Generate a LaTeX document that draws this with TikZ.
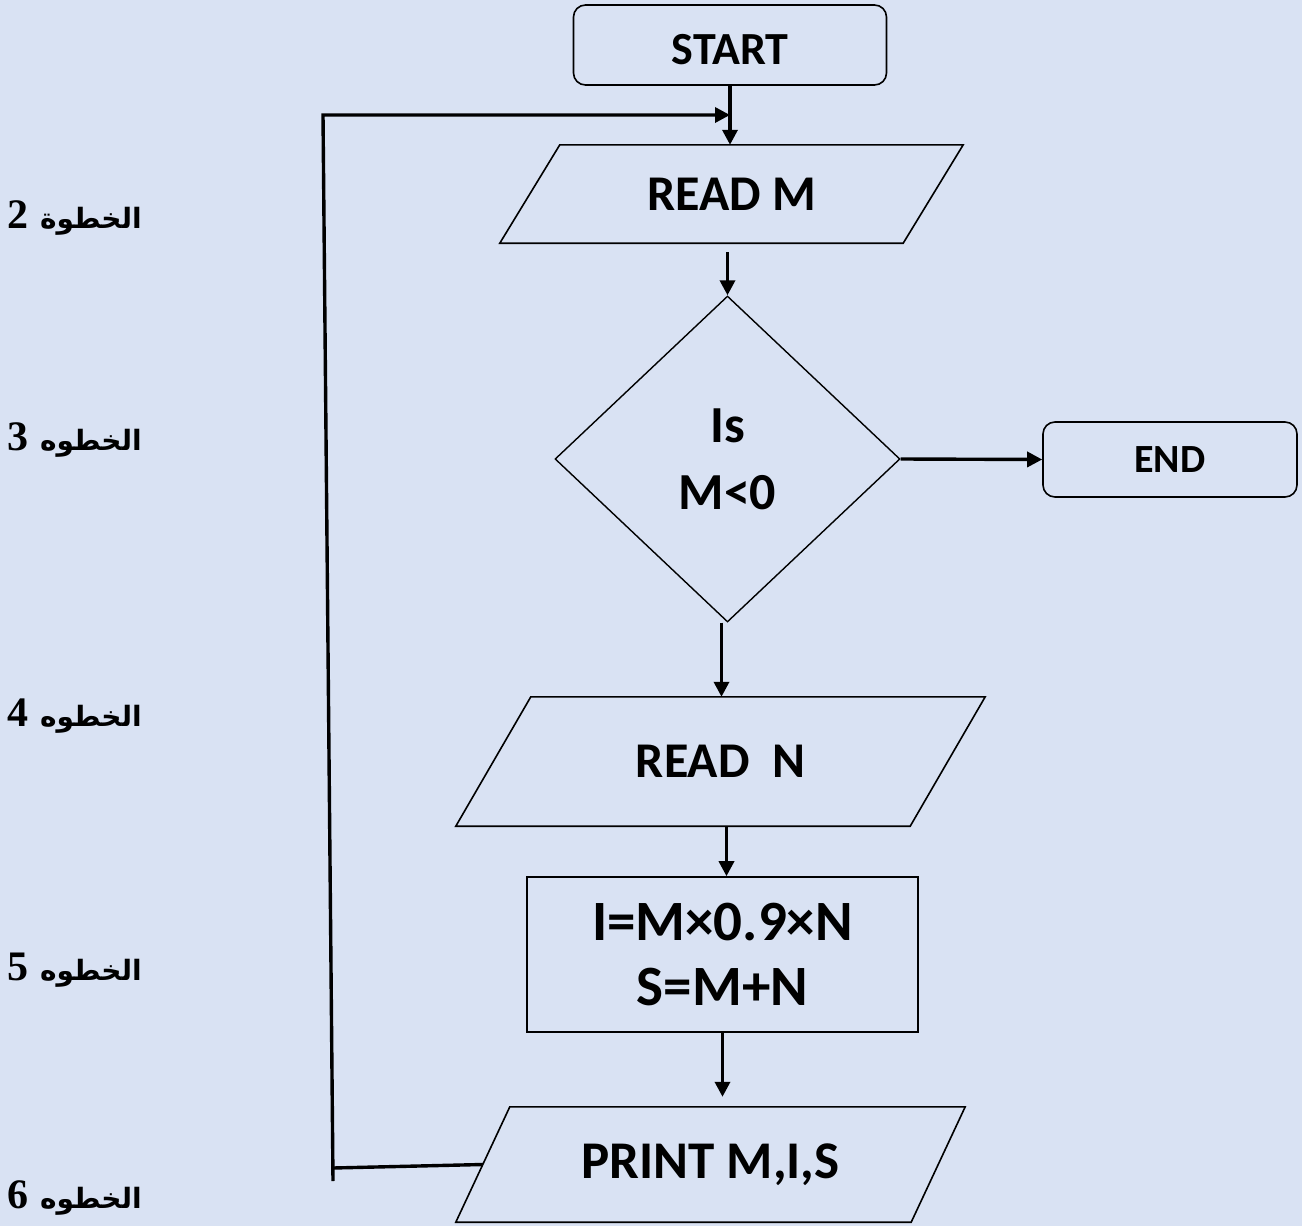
\documentclass[tikz,border=0pt]{standalone}
\usepackage{fontspec}
\setmainfont{Carlito}
\newfontfamily\arabicfont[Script=Arabic]{DejaVu Sans}
\newfontfamily\numfont{Liberation Serif}
\TeXXeTstate=1
\usetikzlibrary{shapes.geometric,arrows.meta}
\definecolor{bg}{HTML}{D9E2F3}
\newcommand{\fsz}[1]{\fontsize{#1}{#1}\selectfont}
\newcommand{\steplabel}[2]{{\numfont\fsz{42}#1}\hspace{12pt}{\arabicfont\fsz{28}\beginR #2\endR}}
\tikzset{
  term/.style={draw, rounded corners=12pt, line width=1.6pt, font=\bfseries},
  iobox/.style={draw=none, inner sep=0pt, font=\bfseries},
  shapeline/.style={line width=1.6pt, line join=miter},
  proc/.style={draw, line width=1.6pt, font=\bfseries, align=center, inner sep=0pt},
  dec/.style={diamond, draw, line width=1.4pt, font=\bfseries, align=center, inner sep=0pt},
  conn/.style={line width=3.4pt, -{Triangle[length=15pt,width=15pt]}},
  connline/.style={line width=3.4pt},
  lbl/.style={anchor=east, inner sep=0pt, font=\bfseries}
}
\begin{document}
\begin{tikzpicture}[x=1pt,y=-1pt]
\fill[bg] (0,0) rectangle (1302,1226);
\useasboundingbox (0,0) rectangle (1302,1226);

% nodes
\node[term, minimum width=313pt, minimum height=80pt, font=\bfseries\fsz{46}, text height=38pt, text depth=0pt] (start) at (730,45) {START};
\node[iobox, minimum width=463pt, minimum height=98pt, font=\bfseries\fsz{50}] (readm) at (731.5,194) {READ M};
\draw[shapeline] ([xshift=60pt]readm.north west) -- (readm.north east) -- ([xshift=-60pt]readm.south east) -- (readm.south west) -- cycle;
\node[dec, minimum width=345pt, minimum height=326pt, font=\bfseries\fsz{52}] (dec) at (727.5,459) {Is\\[15pt]M<0};
\node[term, minimum width=254pt, minimum height=75pt, font=\bfseries\fsz{40}] (end) at (1170,459.5) {END};
\node[iobox, minimum width=529pt, minimum height=129pt, font=\bfseries\fsz{50}] (readn) at (720.5,761.5) {READ\ \ N};
\draw[shapeline] ([xshift=75pt]readn.north west) -- (readn.north east) -- ([xshift=-75pt]readn.south east) -- (readn.south west) -- cycle;
\node[proc, minimum width=391pt, minimum height=155pt, font=\bfseries\fsz{57}] (calc) at (722.5,954.5) {I=M×0.9×N\\[8pt]S=M+N};
\node[iobox, minimum width=509pt, minimum height=115pt, font=\bfseries\fsz{53}] (print) at (710.5,1164.5) {PRINT M,I,S};
\draw[shapeline] ([xshift=54pt]print.north west) -- (print.north east) -- ([xshift=-54pt]print.south east) -- (print.south west) -- cycle;

% step labels
\node[lbl] (s2) at (142,218) {\steplabel{2}{الخطوة}};
\node[lbl] (s3) at (142,440) {\steplabel{3}{الخطوه}};
\node[lbl] (s4) at (142,716) {\steplabel{4}{الخطوه}};
\node[lbl] (s5) at (142,970) {\steplabel{5}{الخطوه}};
\node[lbl] (s6) at (142,1198) {\steplabel{6}{الخطوه}};

% connectors
\coordinate (j) at (start.south |- 0,115);
\draw[conn] (start.south) -- (start.south |- readm.north);
\draw[conn] ([yshift=-9pt]readm.south -| dec.north) -- (dec.north);
\draw[conn] (dec.east) -- (end.west);
\coordinate (a1) at ([xshift=-6pt]readn.north -| dec.south);
\draw[conn] (dec.south -| a1) -- (a1);
\coordinate (a2) at ([xshift=4pt]readn.south -| calc.north);
\draw[conn] (a2) -- (a2 |- calc.north);
\draw[conn] (calc.south) -- ([yshift=10pt]calc.south |- print.north);

% loop back
\coordinate (lp) at ([xshift=27pt]print.west);
\coordinate (c1) at (333,1168);
\coordinate (c0) at (333,1181);
\coordinate (c2) at (323,115);
\draw[connline] (lp) -- (c1);
\draw[conn, line join=miter] (c0) -- (c2) -- (j);
\end{tikzpicture}
\end{document}
